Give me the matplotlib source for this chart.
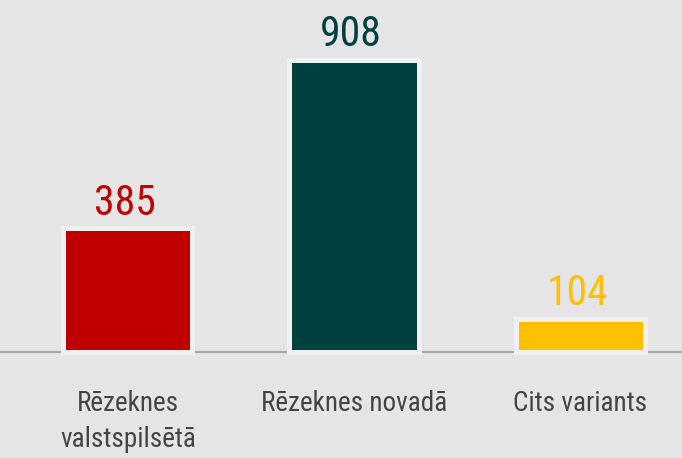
import matplotlib.pyplot as plt

# ---------- data ----------
categories = ["Rēzeknes\nvalstspilsētā", "Rēzeknes novadā", "Cits variants"]
values = [385, 908, 104]
colors = ["#c00000", "#004040", "#ffc000"]

bg = "#e5e5e5"
plt.rcParams['font.family'] = ['Roboto Condensed', 'Open Sans Condensed', 'Liberation Sans Narrow',
                               'Noto Sans Condensed', 'DejaVu Sans Condensed', 'Roboto', 'DejaVu Sans']

fig = plt.figure(figsize=(6.82, 4.58), dpi=100, facecolor=bg)
ax = fig.add_axes([0, 0, 1, 1])
ax.set_facecolor(bg)

x = list(range(len(values)))
ax.bar(x, values, width=0.571, color=colors, edgecolor="#f0f0f0", linewidth=3.6, zorder=3)
ax.axhline(0, color="#a8a8a8", linewidth=1.5, zorder=2)

# value labels
for i, v in enumerate(values):
    ax.annotate(str(v), (i, v), xytext=(-2, 3), textcoords='offset points',
                ha='center', va='bottom', fontsize=30, color=colors[i], fontstretch='condensed')

# category labels
for i, c in enumerate(categories):
    ax.annotate(c, (i, 0), xytext=(0, -27), textcoords='offset points',
                ha='center', va='top', fontsize=19.5, color="#444444", linespacing=1.45,
                fontstretch='condensed')

ax.set_xlim(-0.566, 2.451)
ax.set_ylim(-329, 1093)
ax.axis('off')

fig.savefig("out.png", dpi=100, facecolor=bg)
